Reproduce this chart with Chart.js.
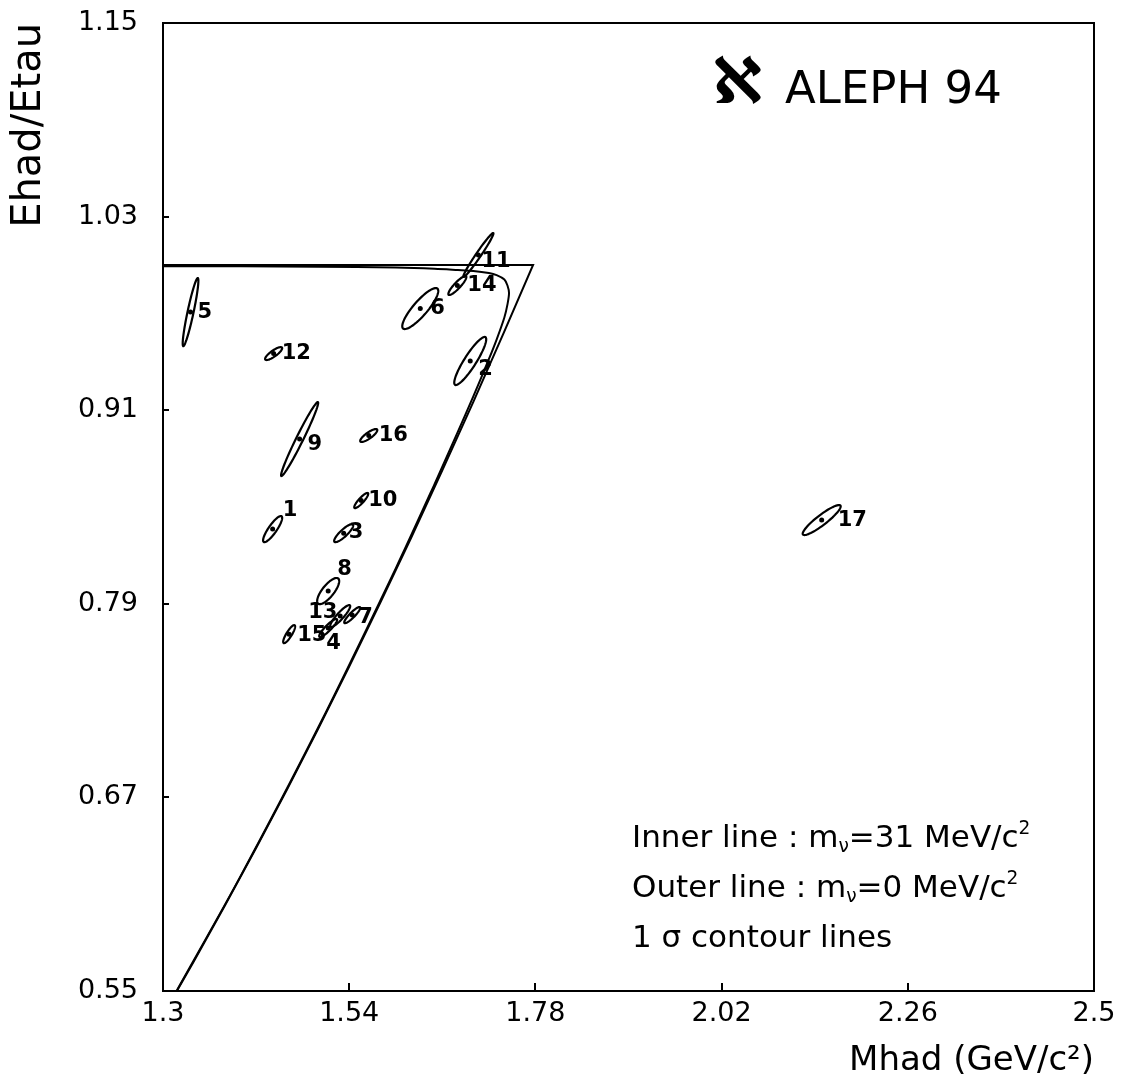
<!DOCTYPE html>
<html>
<head>
<meta charset="utf-8">
<script src="https://cdn.jsdelivr.net/npm/chart.js@4.4.0/dist/chart.umd.min.js"></script>
<style>
  html, body { margin: 0; padding: 0; background: #fff; }
</style>
</head>
<body>
<canvas id="chart" width="1121" height="1090"></canvas>
<script>
// ====== DATA ======
const xTicks = [1.3, 1.54, 1.78, 2.02, 2.26, 2.5];
const xTickLabels = ['1.3', '1.54', '1.78', '2.02', '2.26', '2.5'];
const yTicks = [0.55, 0.67, 0.79, 0.91, 1.03, 1.15];
const yTickLabels = ['0.55', '0.67', '0.79', '0.91', '1.03', '1.15'];

// outer line (m_nu = 0)
const outerMhad  = [1.30, 1.777, 1.74, 1.70, 1.66, 1.62, 1.58, 1.54, 1.50, 1.46, 1.42, 1.38, 1.34, 1.318];
const outerRatio = [1.000, 1.000, 0.9588, 0.9152, 0.8727, 0.8311, 0.7906, 0.7511, 0.7125, 0.6750, 0.6386, 0.6031, 0.5686, 0.5501];

// inner line (m_nu = 31 MeV)
const innerMhad  = [1.30, 1.40, 1.50, 1.60, 1.65, 1.68, 1.70, 1.72, 1.73, 1.74, 1.744, 1.746,
                    1.744, 1.74, 1.73, 1.72, 1.70, 1.68, 1.65, 1.60, 1.50, 1.40, 1.318];
const innerRatio = [0.9993, 0.9992, 0.9989, 0.9984, 0.9977, 0.9969, 0.9963, 0.9950, 0.9937, 0.9910, 0.9873, 0.9826,
                    0.9756, 0.9675, 0.9538, 0.9416, 0.9186, 0.8966, 0.8642, 0.8120, 0.7133, 0.6212, 0.5505];

// events: centre, 1 sigma widths and correlation
const eventIds   = [1, 2, 3, 4, 5, 6, 7, 8, 9, 10, 11, 12, 13, 14, 15, 16, 17];
const eventMhad  = [1.4413, 1.696, 1.5329, 1.5129, 1.3355, 1.6316, 1.5439, 1.5129, 1.4761, 1.5555, 1.7065, 1.4426, 1.5284, 1.6794, 1.4626, 1.5652, 2.149];
const eventRatio = [0.8363, 0.9405, 0.8338, 0.7750, 0.9708, 0.9730, 0.7830, 0.7979, 0.8921, 0.8540, 1.0062, 0.9451, 0.7824, 0.9873, 0.7712, 0.8943, 0.8419];
const sigmaMhad  = [0.0123, 0.0206, 0.0123, 0.0116, 0.0101, 0.0232, 0.0103, 0.0142, 0.0239, 0.0090, 0.0194, 0.0110, 0.0129, 0.0116, 0.0077, 0.0110, 0.0245];
const sigmaRatio = [0.0081, 0.0149, 0.0056, 0.0056, 0.0211, 0.0127, 0.0050, 0.0081, 0.0229, 0.0047, 0.0136, 0.0040, 0.0068, 0.0059, 0.0056, 0.0040, 0.0093];
const eventCorr  = [0.86, 0.90, 0.86, 0.90, 0.92, 0.86, 0.90, 0.76, 0.978, 0.88, 0.98, 0.83, 0.90, 0.89, 0.85, 0.83, 0.91];


// ====== STYLE ======
const FONT = '"DejaVu Sans", sans-serif';
// label shift in px from the event centre (default is just to the right)
const labelShift = {
  1: [10, -19], 2: [8, 9], 3: [5, -1], 4: [-2, 16], 5: [7, 0], 6: [10, 0],
  7: [6, 2], 8: [9, -22], 9: [8, 5], 10: [7, 0], 11: [3, 7], 12: [8, 0],
  13: [-32, -4], 14: [10, 0], 15: [8, 1], 16: [10, 0], 17: [16, 0]
};


// ====== PLUGIN: frame, ticks, contours, labels, texts ======
const aleph = {
  id: 'aleph',
  afterDatasetsDraw(chart) {
    const ctx = chart.ctx;
    const xs = chart.scales.x, ys = chart.scales.y;
    const area = chart.chartArea;

    ctx.save();
    ctx.beginPath();
    ctx.rect(area.left, area.top, area.right - area.left, area.bottom - area.top);
    ctx.clip();

    // 1 sigma contour of every event
    ctx.strokeStyle = '#000';
    ctx.lineWidth = 2.2;
    eventIds.forEach((id, i) => {
      const r = eventCorr[i];
      const q = Math.sqrt(1 - r * r);
      ctx.beginPath();
      for (let k = 0; k <= 72; k++) {
        const t = k / 72 * 2 * Math.PI;
        const m = eventMhad[i] + sigmaMhad[i] * Math.cos(t);
        const z = eventRatio[i] + sigmaRatio[i] * (r * Math.cos(t) + q * Math.sin(t));
        const px = xs.getPixelForValue(m), py = ys.getPixelForValue(z);
        if (k === 0) ctx.moveTo(px, py); else ctx.lineTo(px, py);
      }
      ctx.closePath();
      ctx.stroke();
    });

    // event numbers
    ctx.fillStyle = '#000';
    ctx.font = 'bold 21px ' + FONT;
    ctx.textAlign = 'left';
    ctx.textBaseline = 'middle';
    eventIds.forEach((id, i) => {
      const s = labelShift[id] || [9, 0];
      const px = xs.getPixelForValue(eventMhad[i]), py = ys.getPixelForValue(eventRatio[i]);
      ctx.fillText(String(id), px + s[0], py + s[1]);
    });
    ctx.restore();
  },
  afterDraw(chart) {
    const ctx = chart.ctx;
    const xs = chart.scales.x, ys = chart.scales.y;
    const area = chart.chartArea;

    ctx.save();
    ctx.strokeStyle = '#000';
    ctx.lineWidth = 2;
    ctx.strokeRect(area.left, area.top, area.right - area.left, area.bottom - area.top);

    // inward ticks
    ctx.beginPath();
    xTicks.forEach(v => {
      const px = Math.round(xs.getPixelForValue(v));
      ctx.moveTo(px, area.bottom);
      ctx.lineTo(px, area.bottom - 8);
    });
    yTicks.forEach(v => {
      const py = Math.round(ys.getPixelForValue(v));
      ctx.moveTo(area.left, py);
      ctx.lineTo(area.left + 6, py);
    });
    ctx.stroke();

    // experiment tag
    ctx.fillStyle = '#000';
    ctx.textBaseline = 'alphabetic';
    ctx.textAlign = 'left';
    ctx.font = 'bold 64px ' + FONT;
    ctx.fillText('ℵ', 712, 103);
    ctx.font = '45px ' + FONT;
    ctx.fillText('ALEPH 94', 785, 103);

    // legend block
    drawRich(ctx, 632, 847, 31, [['Inner line : m'], ['ν', 'sub'], ['=31 MeV/c'], ['2', 'sup']]);
    drawRich(ctx, 632, 897, 31, [['Outer line : m'], ['ν', 'sub'], ['=0 MeV/c'], ['2', 'sup']]);
    drawRich(ctx, 632, 947, 31, [['1 σ contour lines']]);
    ctx.restore();
  }
};

function drawRich(ctx, x, y, size, parts) {
  let cx = x;
  parts.forEach(([text, kind]) => {
    let fs = size, dy = 0;
    if (kind === 'sub') { fs = size * 0.6; dy = size * 0.15; }
    if (kind === 'sup') { fs = size * 0.6; dy = -size * 0.42; }
    ctx.font = fs + 'px ' + FONT;
    ctx.fillText(text, cx, y + dy);
    cx += ctx.measureText(text).width;
  });
}


// ====== CHART ======
const ctx = document.getElementById('chart').getContext('2d');

new Chart(ctx, {
  type: 'scatter',
  data: {
    datasets: [
      {
        label: 'Outer line',
        data: outerMhad.map((m, i) => ({ x: m, y: outerRatio[i] })),
        showLine: true, borderColor: '#000', borderWidth: 2, pointRadius: 0, tension: 0
      },
      {
        label: 'Inner line',
        data: innerMhad.map((m, i) => ({ x: m, y: innerRatio[i] })),
        showLine: true, borderColor: '#000', borderWidth: 2, pointRadius: 0, tension: 0.3
      },
      {
        label: 'Events',
        data: eventMhad.map((m, i) => ({ x: m, y: eventRatio[i] })),
        showLine: false, pointRadius: 2.5, backgroundColor: '#000', borderColor: '#000', borderWidth: 0
      }
    ]
  },
  options: {
    responsive: false,
    animation: false,
    devicePixelRatio: 1,
    layout: { padding: { top: 23, right: 27, left: 0, bottom: 0 } },
    plugins: { legend: { display: false }, tooltip: { enabled: false } },
    scales: {
      x: {
        type: 'linear', min: 1.3, max: 2.5,
        afterBuildTicks: s => { s.ticks = xTicks.map(v => ({ value: v })); },
        afterFit: s => { s.height = 99; s.paddingLeft = 0; s.paddingRight = 0; },
        ticks: {
          callback: (v, i) => xTickLabels[i],
          font: { family: FONT, size: 27 }, color: '#000',
          padding: 7, maxRotation: 0, autoSkip: false
        },
        grid: { display: false, drawTicks: false },
        border: { display: false },
        title: {
          display: true, text: 'Mhad (GeV/c²)', align: 'end', color: '#000',
          font: { family: FONT, size: 34 }, padding: { top: 0, bottom: 8 }
        }
      },
      y: {
        type: 'linear', min: 0.55, max: 1.15,
        afterBuildTicks: s => { s.ticks = yTicks.map(v => ({ value: v })); },
        afterFit: s => { s.width = 163; s.paddingTop = 0; s.paddingBottom = 0; },
        ticks: {
          callback: (v, i) => yTickLabels[i],
          font: { family: FONT, size: 27 }, color: '#000',
          padding: 25, autoSkip: false
        },
        grid: { display: false, drawTicks: false },
        border: { display: false },
        title: {
          display: true, text: 'Ehad/Etau', align: 'end', color: '#000',
          font: { family: FONT, size: 40 }, padding: { top: 6, bottom: 0 }
        }
      }
    }
  },
  plugins: [aleph]
});
</script>
</body>
</html>
